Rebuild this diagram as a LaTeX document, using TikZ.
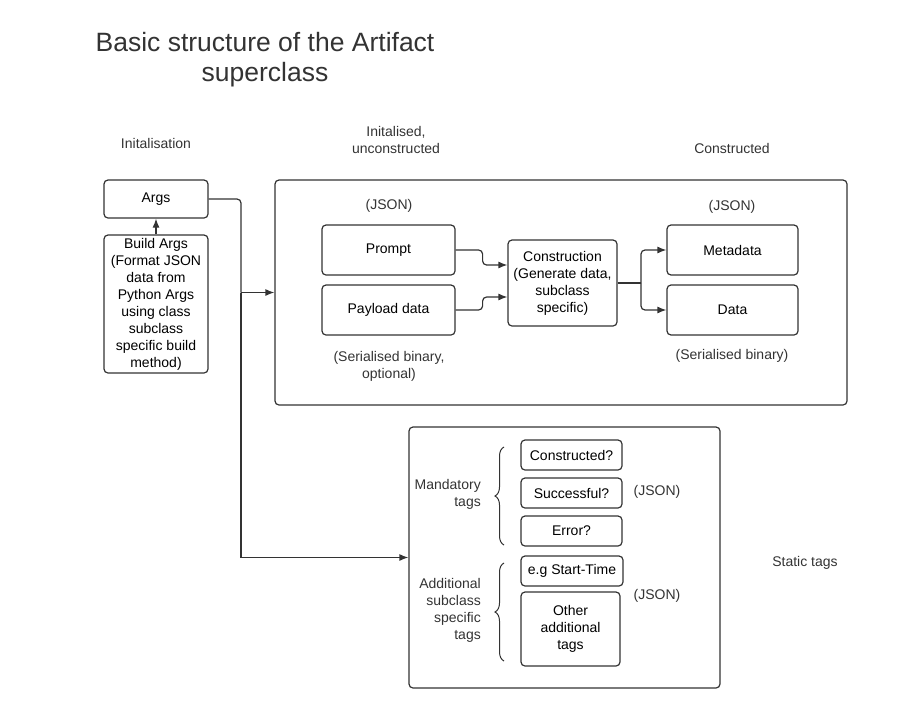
\documentclass[tikz,border=0pt]{standalone}
\usepackage{fontspec}
\setmainfont{Liberation Sans}
\usetikzlibrary{arrows.meta,decorations.pathreplacing}
\definecolor{ink}{HTML}{333333}

\tikzset{
  box/.style={draw=ink, line width=1.2pt, rounded corners=4pt, align=center, inner sep=0pt},
  lbl/.style={align=center, text=ink, inner sep=0pt},
  conn/.style={draw=ink, line width=1.2pt, rounded corners=4pt, -{Latex[length=9pt,width=7pt]}},
  wire/.style={draw=ink, line width=1.2pt, rounded corners=4pt},
  brc/.style={draw=ink, line width=1pt, decorate, decoration={brace, amplitude=9pt}}
}

\begin{document}
\begin{tikzpicture}[x=1pt, y=-1pt, font=\fontsize{14}{17}\selectfont]
    \useasboundingbox (0,0) rectangle (912,726);

    % title
    \node[lbl, font=\fontsize{26.5}{30}\selectfont] (title) at (265,60) {Basic structure of the Artifact\\superclass};

    % stage headings
    \node[lbl] (init) at (156,143) {Initalisation};
    \node[lbl] (unc) at (396,140) {Initalised,\\unconstructed};
    \node[lbl] (cons_h) at (732,148) {Constructed};

    % left column
    \node[box, minimum width=104pt, minimum height=38pt] (args) at (156,199) {Args};
    \node[box, minimum width=104pt, minimum height=138pt] (build) at (156,304)
        {Build Args\\(Format JSON\\data from\\Python Args\\using class\\subclass\\specific build\\method)};

    % construction box
    \node[box, minimum width=572pt, minimum height=225pt] (main) at (561,292.5) {};
    \node[lbl] (json1) at (389,206) {(JSON)};
    \node[box, minimum width=133pt, minimum height=50pt] (prompt) at (388.5,250) {Prompt};
    \node[box, minimum width=133pt, minimum height=50pt] (payload) at (388.5,310) {Payload data};
    \node[lbl] (ser1) at (389,366) {(Serialised binary,\\optional)};
    \node[box, minimum width=109pt, minimum height=86pt] (constr) at (562.5,283)
        {Construction\\(Generate data,\\subclass\\specific)};
    \node[lbl] (json2) at (732,207) {(JSON)};
    \node[box, minimum width=131pt, minimum height=50pt] (meta) at (732.5,250) {Metadata};
    \node[box, minimum width=131pt, minimum height=50pt] (data) at (732.5,310) {Data};
    \node[lbl] (ser2) at (732,356) {(Serialised binary)};

    % static tags box
    \node[box, minimum width=311pt, minimum height=261pt] (tags) at (564.5,557.5) {};
    \node[box, minimum width=101pt, minimum height=30pt] (t1) at (571.5,455) {Constructed?};
    \node[box, minimum width=101pt, minimum height=30pt] (t2) at (571.5,493) {Successful?};
    \node[box, minimum width=101pt, minimum height=30pt] (t3) at (571.5,531) {Error?};
    \node[box, minimum width=102pt, minimum height=30pt] (t4) at (572,571) {e.g Start-Time};
    \node[box, minimum width=99pt, minimum height=74pt] (t5) at (570.5,629) {Other\\additional\\tags};
    \node[lbl, align=right, anchor=east] (mand) at (481,494) {Mandatory\\tags};
    \node[lbl, align=right, anchor=east] (addl) at (481,610) {Additional\\subclass\\specific\\tags};
    \node[lbl] (json3) at (657,492) {(JSON)};
    \node[lbl] (json4) at (657,596) {(JSON)};
    \node[lbl] (static) at (805,563) {Static tags};

    % braces
    \coordinate (b1s) at (504,545);
    \coordinate (b1e) at (504,447);
    \coordinate (b2s) at (504,661);
    \coordinate (b2e) at (504,563);
    \draw[brc] (b1s) -- (b1e);
    \draw[brc] (b2s) -- (b2e);

    % connectors
    \coordinate (split) at (241,292.5);
    \draw[conn] (build.north) -- (args.south);
    \draw[wire] (args.east) -| (split);
    \draw[conn] (split) -- (main.west);
    \draw[conn, rounded corners=0pt] (split) |- (tags.west);
    \draw[conn] (prompt.east) -- ++(27,0) |- ([yshift=18pt]constr.west);
    \draw[conn] (payload.east) -- ++(27,0) |- ([yshift=-14pt]constr.west);
    \coordinate (fork) at (641,283);
    \draw[wire] (constr.east) -- (fork);
    \draw[conn] (fork) |- (meta.west);
    \draw[conn] (fork) |- (data.west);
\end{tikzpicture}
\end{document}
